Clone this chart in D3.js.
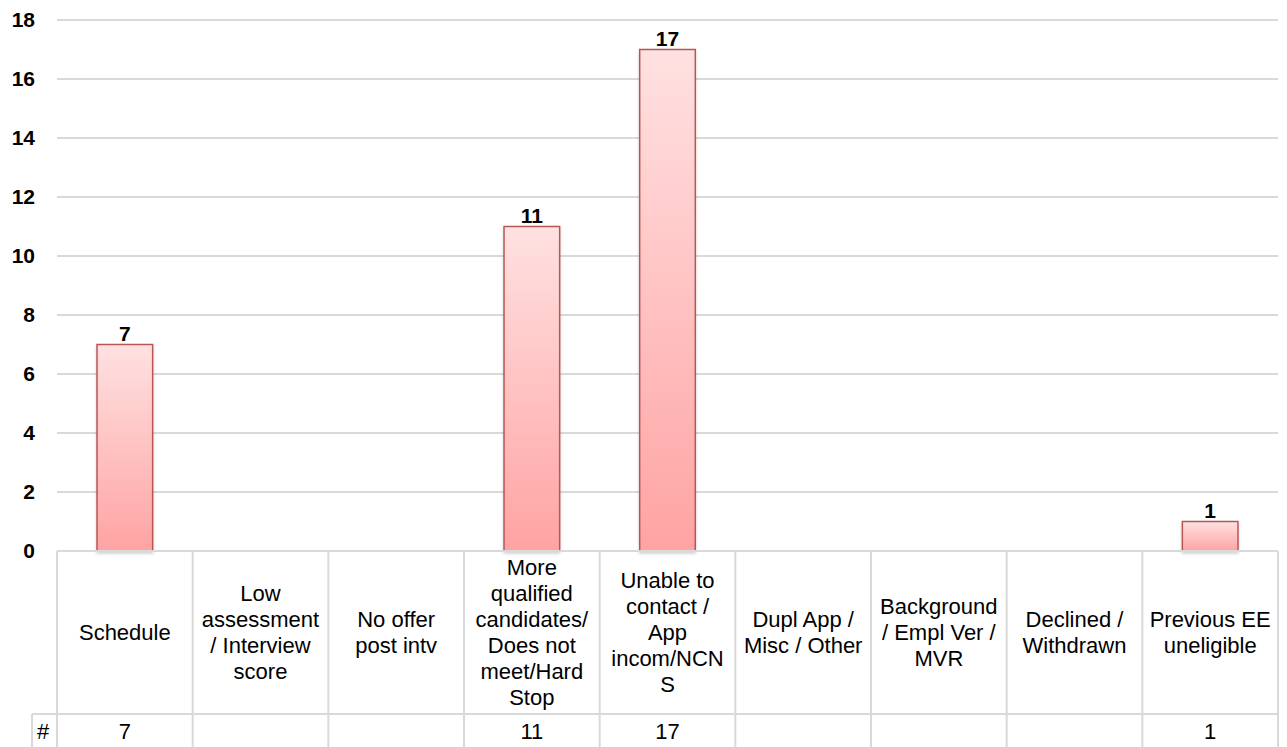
<!DOCTYPE html>
<meta charset="utf-8">
<script src="https://d3js.org/d3.v7.min.js"></script>
<style>
  body { margin: 0; background: #fff; }
  svg text { font-family: "Liberation Sans", Arial, sans-serif; }
</style>
<body>
<div id="chart"></div>
<script>
// categories, with the line breaks used in the data table
var categories = ["Schedule", "Low assessment / Interview score", "No offer post intv",
  "More qualified candidates/ Does not meet/Hard Stop", "Unable to contact / App incom/NCNS",
  "Dupl App / Misc / Other", "Background / Empl Ver / MVR", "Declined / Withdrawn",
  "Previous EE uneligible"];
var categoryLines = [
  ["Schedule"],
  ["Low", "assessment", "/ Interview", "score"],
  ["No offer", "post intv"],
  ["More", "qualified", "candidates/", "Does not", "meet/Hard", "Stop"],
  ["Unable to", "contact /", "App", "incom/NCN", "S"],
  ["Dupl App /", "Misc / Other"],
  ["Background", "/ Empl Ver /", "MVR"],
  ["Declined /", "Withdrawn"],
  ["Previous EE", "uneligible"]
];
var values = [7, null, null, 11, 17, null, null, null, 1];
var yTicks = [0, 2, 4, 6, 8, 10, 12, 14, 16, 18];

var W = 1287, H = 747;
var plotLeft = 57, plotRight = 1278, plotTop = 20, base = 551;
var headerBottom = 714, rowBottom = 752;
var fs = 22, fsBold = 21;

var svg = d3.select("#chart").append("svg")
  .attr("width", W).attr("height", H);

var defs = svg.append("defs");
var grad = defs.append("linearGradient").attr("id", "barGrad")
  .attr("x1", 0).attr("y1", 0).attr("x2", 0).attr("y2", 1);
grad.append("stop").attr("offset", "0%").attr("stop-color", "#ffe1e1");
grad.append("stop").attr("offset", "100%").attr("stop-color", "#ffa3a3");
var shadow = defs.append("filter").attr("id", "shadow")
  .attr("x", "-20%").attr("y", "-20%").attr("width", "140%").attr("height", "140%");
shadow.append("feDropShadow").attr("dx", 0).attr("dy", 2).attr("stdDeviation", 1.5)
  .attr("flood-color", "#000").attr("flood-opacity", 0.18);

var x = d3.scaleBand().domain(categories).range([plotLeft, plotRight]).paddingInner(0).paddingOuter(0);
var y = d3.scaleLinear().domain([0, 18]).range([base, plotTop]);

// gridlines
svg.append("g").selectAll("line").data(yTicks.filter(function(d) { return d > 0; }))
  .enter().append("line")
  .attr("x1", plotLeft).attr("x2", plotRight)
  .attr("y1", function(d) { return y(d); }).attr("y2", function(d) { return y(d); })
  .attr("stroke", "#d9d9d9").attr("stroke-width", 2);

// y tick labels
svg.append("g").selectAll("text").data(yTicks).enter().append("text")
  .attr("x", 35).attr("y", function(d) { return y(d); })
  .attr("dy", "0.35em")
  .attr("text-anchor", "end")
  .attr("font-size", fsBold).attr("font-weight", "bold").attr("fill", "#000")
  .text(function(d) { return d; });

// bars
var bw = x.bandwidth() * 0.41;
var data = categories.map(function(c, i) { return { cat: c, v: values[i] }; })
  .filter(function(d) { return d.v; });

svg.append("g").selectAll("rect").data(data).enter().append("rect")
  .attr("x", function(d) { return x(d.cat) + (x.bandwidth() - bw) / 2; })
  .attr("y", function(d) { return y(d.v); })
  .attr("width", bw)
  .attr("height", function(d) { return y(0) - y(d.v); })
  .attr("fill", "url(#barGrad)")
  .attr("stroke", "#b85756").attr("stroke-width", 1.5)
  .attr("filter", "url(#shadow)");

svg.append("g").selectAll("text").data(data).enter().append("text")
  .attr("x", function(d) { return x(d.cat) + x.bandwidth() / 2; })
  .attr("y", function(d) { return y(d.v) - 4; })
  .attr("text-anchor", "middle")
  .attr("font-size", fsBold).attr("font-weight", "bold").attr("fill", "#000")
  .text(function(d) { return d.v; });

// data table
var tbl = svg.append("g").attr("stroke", "#d9d9d9").attr("stroke-width", 2);
tbl.append("line").attr("x1", plotLeft).attr("x2", plotRight).attr("y1", base).attr("y2", base);
tbl.append("line").attr("x1", 32).attr("x2", plotRight).attr("y1", headerBottom).attr("y2", headerBottom);
tbl.append("line").attr("x1", 32).attr("x2", 32).attr("y1", headerBottom).attr("y2", rowBottom);
tbl.selectAll(".v").data(categories.concat(["end"])).enter().append("line")
  .attr("x1", function(d, i) { return i < categories.length ? x(d) : plotRight; })
  .attr("x2", function(d, i) { return i < categories.length ? x(d) : plotRight; })
  .attr("y1", base).attr("y2", rowBottom);

var lh = 26;
var heads = svg.append("g").selectAll("text").data(categories).enter().append("text")
  .attr("text-anchor", "middle")
  .attr("font-size", fs).attr("fill", "#000");
heads.each(function(c, i) {
  var lines = categoryLines[i];
  var cx = x(c) + x.bandwidth() / 2;
  var cy = (base + headerBottom) / 2 - (lines.length - 1) * lh / 2;
  d3.select(this).selectAll("tspan").data(lines).enter().append("tspan")
    .attr("x", cx)
    .attr("y", function(d, j) { return cy + j * lh; })
    .attr("dy", "0.35em")
    .text(function(d) { return d; });
});

svg.append("text").attr("x", 43).attr("y", 731).attr("dy", "0.35em")
  .attr("text-anchor", "middle").attr("font-size", fs).text("#");

svg.append("g").selectAll("text").data(data).enter().append("text")
  .attr("x", function(d) { return x(d.cat) + x.bandwidth() / 2; })
  .attr("y", 731).attr("dy", "0.35em")
  .attr("text-anchor", "middle").attr("font-size", fs).attr("fill", "#000")
  .text(function(d) { return d.v; });
</script>
</body>
